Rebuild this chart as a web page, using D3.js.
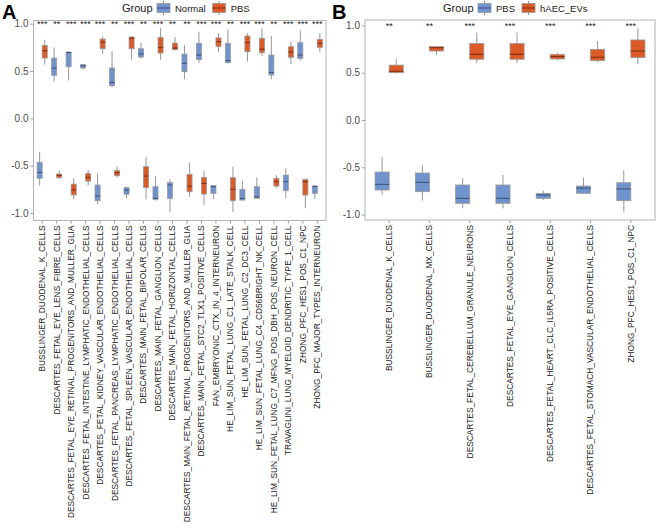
<!DOCTYPE html>
<html>
<head>
<meta charset="utf-8">
<script src="https://cdn.jsdelivr.net/npm/d3@7"></script>
<style>
  body { margin: 0; background: #fff; }
  text { font-family: "Liberation Sans", Arial, sans-serif; }
</style>
</head>
<body>
<div id="container"></div>
<script>
// ---- data ----
// five-number summaries: [whisker low, q1, median, q3, whisker high]
const catsA = [
  "BUSSLINGER_DUODENAL_K_CELLS",
  "DESCARTES_FETAL_EYE_LENS_FIBRE_CELLS",
  "DESCARTES_FETAL_EYE_RETINAL_PROGENITORS_AND_MULLER_GLIA",
  "DESCARTES_FETAL_INTESTINE_LYMPHATIC_ENDOTHELIAL_CELLS",
  "DESCARTES_FETAL_KIDNEY_VASCULAR_ENDOTHELIAL_CELLS",
  "DESCARTES_FETAL_PANCREAS_LYMPHATIC_ENDOTHELIAL_CELLS",
  "DESCARTES_FETAL_SPLEEN_VASCULAR_ENDOTHELIAL_CELLS",
  "DESCARTES_MAIN_FETAL_BIPOLAR_CELLS",
  "DESCARTES_MAIN_FETAL_GANGLION_CELLS",
  "DESCARTES_MAIN_FETAL_HORIZONTAL_CELLS",
  "DESCARTES_MAIN_FETAL_RETINAL_PROGENITORS_AND_MULLER_GLIA",
  "DESCARTES_MAIN_FETAL_STC2_TLX1_POSITIVE_CELLS",
  "FAN_EMBRYONIC_CTX_IN_4_INTERNEURON",
  "HE_LIM_SUN_FETAL_LUNG_C1_LATE_STALK_CELL",
  "HE_LIM_SUN_FETAL_LUNG_C2_DC3_CELL",
  "HE_LIM_SUN_FETAL_LUNG_C4_CD56BRIGHT_NK_CELL",
  "HE_LIM_SUN_FETAL_LUNG_C7_MFNG_POS_DBH_POS_NEURON_CELL",
  "TRAVAGLINI_LUNG_MYELOID_DENDRITIC_TYPE_1_CELL",
  "ZHONG_PFC_HES1_POS_C1_NPC",
  "ZHONG_PFC_MAJOR_TYPES_INTERNEURON"
];
const sigA = ["***","**","***","***","***","**","***","**","***","**",
              "**","***","***","**","***","***","**","***","***","***"];
const normalA = [
  [-0.712, -0.634, -0.571, -0.465, -0.353],
  [0.39, 0.455, 0.53, 0.637, 0.75],
  [0.40, 0.545, 0.695, 0.70, 0.71],
  [0.514, 0.532, 0.555, 0.567, 0.57],
  [-0.909, -0.871, -0.821, -0.705, -0.582],
  [0.328, 0.345, 0.38, 0.532, 0.708],
  [-0.846, -0.803, -0.758, -0.733, -0.723],
  [0.63, 0.648, 0.68, 0.736, 0.796],
  [-0.871, -0.856, -0.846, -0.723, -0.61],
  [-0.987, -0.846, -0.705, -0.677, -0.642],
  [0.412, 0.493, 0.581, 0.678, 0.775],
  [0.588, 0.623, 0.669, 0.793, 0.915],
  [-0.856, -0.793, -0.723, -0.712, -0.705],
  [0.58, 0.588, 0.61, 0.793, 0.94],
  [-0.871, -0.864, -0.846, -0.751, -0.659],
  [-0.85, -0.846, -0.829, -0.723, -0.624],
  [0.412, 0.458, 0.486, 0.669, 0.87],
  [-0.846, -0.765, -0.67, -0.60, -0.529],
  [0.61, 0.634, 0.669, 0.80, 0.926],
  [-0.853, -0.793, -0.72, -0.716, -0.705]
];
const pbsA = [
  [0.567, 0.637, 0.715, 0.77, 0.83],
  [-0.64, -0.628, -0.603, -0.589, -0.553],
  [-0.853, -0.81, -0.758, -0.695, -0.634],
  [-0.712, -0.663, -0.624, -0.582, -0.547],
  [0.68, 0.736, 0.803, 0.838, 0.867],
  [-0.624, -0.607, -0.575, -0.553, -0.511],
  [0.62, 0.736, 0.845, 0.86, 0.865],
  [-0.856, -0.733, -0.61, -0.511, -0.406],
  [0.62, 0.69, 0.75, 0.856, 0.955],
  [0.72, 0.725, 0.743, 0.796, 0.86],
  [-0.829, -0.776, -0.716, -0.592, -0.469],
  [-0.916, -0.80, -0.687, -0.624, -0.553],
  [0.70, 0.76, 0.81, 0.85, 0.90],
  [-0.987, -0.871, -0.751, -0.628, -0.511],
  [0.60, 0.704, 0.80, 0.87, 0.90],
  [0.66, 0.693, 0.73, 0.846, 0.951],
  [-0.74, -0.716, -0.67, -0.634, -0.60],
  [0.574, 0.645, 0.70, 0.757, 0.81],
  [-0.951, -0.811, -0.67, -0.645, -0.634],
  [0.70, 0.75, 0.793, 0.835, 0.90]
];

const catsB = [
  "BUSSLINGER_DUODENAL_K_CELLS",
  "BUSSLINGER_DUODENAL_MX_CELLS",
  "DESCARTES_FETAL_CEREBELLUM_GRANULE_NEURONS",
  "DESCARTES_FETAL_EYE_GANGLION_CELLS",
  "DESCARTES_FETAL_HEART_CLC_IL5RA_POSITIVE_CELLS",
  "DESCARTES_FETAL_STOMACH_VASCULAR_ENDOTHELIAL_CELLS",
  "ZHONG_PFC_HES1_POS_C1_NPC"
];
const sigB = ["**","**","***","***","***","***","***"];
const pbsB = [
  [-0.793, -0.74, -0.68, -0.55, -0.39],
  [-0.853, -0.758, -0.659, -0.56, -0.476],
  [-0.934, -0.881, -0.828, -0.687, -0.613],
  [-0.934, -0.881, -0.828, -0.687, -0.58],
  [-0.846, -0.828, -0.793, -0.775, -0.747],
  [-0.78, -0.775, -0.72, -0.698, -0.61],
  [-0.969, -0.853, -0.729, -0.663, -0.53]
];
const haecB = [
  [0.49, 0.50, 0.515, 0.58, 0.642],
  [0.687, 0.729, 0.764, 0.775, 0.78],
  [0.60, 0.642, 0.694, 0.81, 0.923],
  [0.60, 0.642, 0.694, 0.81, 0.923],
  [0.634, 0.645, 0.67, 0.694, 0.712],
  [0.61, 0.627, 0.663, 0.747, 0.835],
  [0.589, 0.659, 0.729, 0.846, 0.969]
];

const yTicks = [-1.0, -0.5, 0.0, 0.5, 1.0];

const BLUE = "#7092cd";
const ORANGE = "#dc5a28";

const svg = d3.select("#container")
  .append("svg")
  .attr("width", 658)
  .attr("height", 529);

function panel(opt) {
  const { letter, letterX, frame, yDomain, cats, sig, groups, legendX } = opt;

  const x = d3.scaleBand()
    .domain(cats)
    .range([frame.left, frame.right])
    .paddingInner(0)
    .paddingOuter(0.1);

  const y = d3.scaleLinear()
    .domain(yDomain)
    .range([frame.bottom, frame.top]);

  // dodge groups inside each category
  const gx = d3.scaleBand()
    .domain(groups.map(g => g.name))
    .range([-0.35 * x.step(), 0.35 * x.step()]);

  const g = svg.append("g");

  // panel letter
  svg.append("text")
    .attr("x", letterX)
    .attr("y", 19)
    .attr("font-size", 20)
    .attr("font-weight", "bold")
    .attr("fill", "#000")
    .text(letter);

  // y axis
  const yAxis = g.append("g")
    .attr("transform", `translate(${frame.left},0)`)
    .call(d3.axisLeft(y).tickValues(yTicks).tickSize(3).tickPadding(2).tickFormat(d3.format(".1f")));
  yAxis.select(".domain").remove();
  yAxis.selectAll(".tick line").attr("stroke", "#999");
  yAxis.selectAll(".tick text")
    .attr("fill", "#4d4d4d")
    .attr("font-size", 10)
    .attr("font-family", "Liberation Sans, Arial, sans-serif")
    .text(d => d < 0 ? "-" + d3.format(".1f")(-d) : d3.format(".1f")(d));

  // x axis, labels turned upright
  const xAxis = g.append("g")
    .attr("transform", `translate(0,${frame.bottom})`)
    .call(d3.axisBottom(x).tickSize(3).tickPadding(2));
  xAxis.select(".domain").remove();
  xAxis.selectAll(".tick line").attr("stroke", "#999");
  xAxis.selectAll(".tick text")
    .attr("fill", "#1a1a1a")
    .attr("font-size", 8.35)
    .attr("font-family", "Liberation Sans, Arial, sans-serif")
    .attr("text-anchor", "end")
    .attr("dy", "0.35em")
    .attr("transform", "translate(0,5) rotate(-90)")
    .attr("x", 0)
    .attr("y", 0);

  // frame
  g.append("rect")
    .attr("x", frame.left)
    .attr("y", frame.top)
    .attr("width", frame.right - frame.left)
    .attr("height", frame.bottom - frame.top)
    .attr("fill", "none")
    .attr("stroke", "#b3b3b3")
    .attr("stroke-width", 1);

  // boxes
  groups.forEach(grp => {
    const bw = gx.bandwidth();
    const items = g.append("g").selectAll("g")
      .data(cats.map((c, i) => ({ c, v: grp.values[i] })))
      .join("g")
      .attr("transform", d => `translate(${x(d.c) + x.bandwidth() / 2 + gx(grp.name)},0)`);

    items.append("line")
      .attr("x1", bw / 2).attr("x2", bw / 2)
      .attr("y1", d => y(d.v[0])).attr("y2", d => y(d.v[4]))
      .attr("stroke", "#8a8a8a")
      .attr("stroke-width", 0.9);

    items.append("rect")
      .attr("x", 0)
      .attr("width", bw)
      .attr("y", d => y(d.v[3]))
      .attr("height", d => y(d.v[1]) - y(d.v[3]))
      .attr("fill", grp.color)
      .attr("stroke", "#9a9a9a")
      .attr("stroke-width", 0.8);

    items.append("line")
      .attr("x1", 0).attr("x2", bw)
      .attr("y1", d => y(d.v[2])).attr("y2", d => y(d.v[2]))
      .attr("stroke", grp.dark)
      .attr("stroke-width", 1);
  });

  // significance stars
  g.append("g").selectAll("text")
    .data(cats.map((c, i) => ({ c, s: sig[i] })))
    .join("text")
    .attr("x", d => x(d.c) + x.bandwidth() / 2)
    .attr("y", y(1.0) + 3.5)
    .attr("text-anchor", "middle")
    .attr("font-size", 9)
    .attr("fill", "#1a1a1a")
    .text(d => d.s);

  // legend
  const lg = svg.append("g").attr("transform", `translate(${legendX},0)`);
  lg.append("text")
    .attr("x", 0).attr("y", 12)
    .attr("font-size", 11)
    .attr("fill", "#1a1a1a")
    .text("Group");
  let lx = 35;
  groups.forEach(grp => {
    const key = lg.append("g").attr("transform", `translate(${lx},0)`);
    key.append("line")
      .attr("x1", 6.5).attr("x2", 6.5).attr("y1", 1).attr("y2", 15)
      .attr("stroke", "#8a8a8a");
    key.append("rect")
      .attr("x", 0).attr("y", 3.5).attr("width", 13).attr("height", 9)
      .attr("fill", grp.color).attr("stroke", "#9a9a9a").attr("stroke-width", 0.8);
    key.append("line")
      .attr("x1", 0).attr("x2", 13).attr("y1", 8).attr("y2", 8)
      .attr("stroke", grp.dark);
    const t = key.append("text")
      .attr("x", 18).attr("y", 11.5)
      .attr("font-size", 9.5)
      .attr("fill", "#1a1a1a")
      .text(grp.name);
    lx += 18 + t.node().getComputedTextLength() + 7;
  });
}

panel({
  letter: "A",
  letterX: 2,
  frame: { left: 33.5, right: 326, top: 20.5, bottom: 220.5 },
  yDomain: [-1.08, 1.034],
  cats: catsA,
  sig: sigA,
  groups: [
    { name: "Normal", values: normalA, color: BLUE, dark: "#3c4f78" },
    { name: "PBS", values: pbsA, color: ORANGE, dark: "#7a2e10" }
  ],
  legendX: 122
});

panel({
  letter: "B",
  letterX: 332,
  frame: { left: 365, right: 655, top: 20, bottom: 220 },
  yDomain: [-1.057, 1.057],
  cats: catsB,
  sig: sigB,
  groups: [
    { name: "PBS", values: pbsB, color: BLUE, dark: "#3c4f78" },
    { name: "hAEC_EVs", values: haecB, color: ORANGE, dark: "#7a2e10" }
  ],
  legendX: 443
});
</script>
</body>
</html>
